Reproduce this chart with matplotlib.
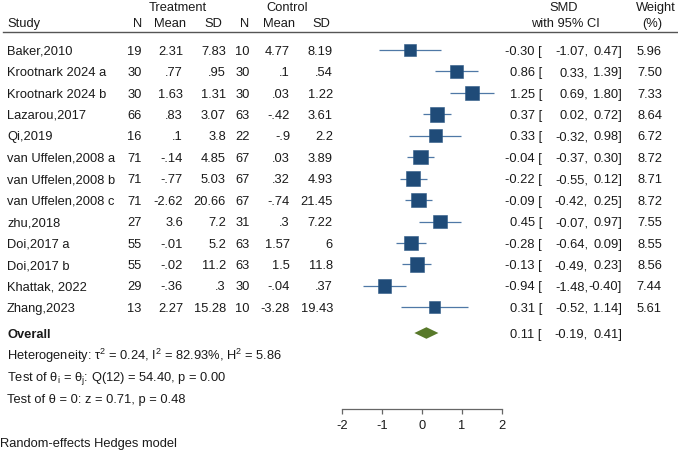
import matplotlib
matplotlib.use("Agg")
import matplotlib.pyplot as plt
import numpy as np

plt.rcParams['font.family'] = ['Liberation Sans', 'DejaVu Sans']
plt.rcParams['mathtext.fontset'] = 'custom'
plt.rcParams['mathtext.rm'] = 'Liberation Sans'
plt.rcParams['mathtext.it'] = 'Liberation Sans'

studies = ["Baker,2010", "Krootnark 2024 a", "Krootnark 2024 b", "Lazarou,2017", "Qi,2019",
           "van Uffelen,2008 a", "van Uffelen,2008 b", "van Uffelen,2008 c", "zhu,2018",
           "Doi,2017 a", "Doi,2017 b", "Khattak, 2022", "Zhang,2023"]
t_n = ["19", "30", "30", "66", "16", "71", "71", "71", "27", "55", "55", "29", "13"]
t_mean = ["2.31", ".77", "1.63", ".83", ".1", "-.14", "-.77", "-2.62", "3.6", "-.01", "-.02", "-.36", "2.27"]
t_sd = ["7.83", ".95", "1.31", "3.07", "3.8", "4.85", "5.03", "20.66", "7.2", "5.2", "11.2", ".3", "15.28"]
c_n = ["10", "30", "30", "63", "22", "67", "67", "67", "31", "63", "63", "30", "10"]
c_mean = ["4.77", ".1", ".03", "-.42", "-.9", ".03", ".32", "-.74", ".3", "1.57", "1.5", "-.04", "-3.28"]
c_sd = ["8.19", ".54", "1.22", "3.61", "2.2", "3.89", "4.93", "21.45", "7.22", "6", "11.8", ".37", "19.43"]
smd = [-0.30, 0.86, 1.25, 0.37, 0.33, -0.04, -0.22, -0.09, 0.45, -0.28, -0.13, -0.94, 0.31]
lo = [-1.07, 0.33, 0.69, 0.02, -0.32, -0.37, -0.55, -0.42, -0.07, -0.64, -0.49, -1.48, -0.52]
hi = [0.47, 1.39, 1.80, 0.72, 0.98, 0.30, 0.12, 0.25, 0.97, 0.09, 0.23, -0.40, 1.14]
weight = [5.96, 7.50, 7.33, 8.64, 6.72, 8.72, 8.71, 8.72, 7.55, 8.55, 8.56, 7.44, 5.61]
overall = (0.11, -0.19, 0.41)
het_text = r"Heterogeneity: τ$^\mathregular{2}$ = 0.24, I$^\mathregular{2}$ = 82.93%, H$^\mathregular{2}$ = 5.86"
q_text = r"Test of θ$_\mathregular{i}$ = θ$_\mathregular{j}$: Q(12) = 54.40, p = 0.00"
z_text = "Test of θ = 0: z = 0.71, p = 0.48"
model_text = "Random-effects Hedges model"
ticks = [-2, -1, 0, 1, 2]

W, H = 678, 451
fig = plt.figure(figsize=(W / 100, H / 100), dpi=100)
ax = fig.add_axes([0, 0, 1, 1])
ax.axis('off')
# pixel mapping: x_px = 422 + 40*smd ; y_px = 50 + 21.44*row
x0, sx = 422.0, 40.0
y0, sy = 50.0, 21.44
ax.set_xlim((0 - x0) / sx, (W - x0) / sx)
ax.set_ylim((H - y0) / sy, (0 - y0) / sy)

fs = 9.3
cap_half = (fs * 100 / 72 * 0.716 / 2) / sy  # half cap height in row units
tr = ax.get_yaxis_transform()  # x axes fraction, y data

def px(x):
    return x / W

sq_color = '#1f4b78'
ci_color = '#4f78a6'
dia_color = '#58792a'

def txt(x, y, s, ha='left', **kw):
    ax.text(px(x), y + cap_half, s, transform=tr, ha=ha, va='baseline', fontsize=fs,
            color='#1a1a1a', **kw)

rows = np.arange(len(studies))
# header
txt(178, -2.05, "Treatment", ha='center')
txt(287, -2.05, "Control", ha='center')
txt(564, -2.05, "SMD", ha='center')
txt(656, -2.05, "Weight", ha='center')
txt(7, -1.27, "Study")
for lab, cx in [("N", 137.5), ("Mean", 170), ("SD", 213), ("N", 245), ("Mean", 278.5), ("SD", 321)]:
    txt(cx, -1.27, lab, ha='center')
txt(565, -1.27, "with 95% CI", ha='center')
txt(652, -1.27, "(%)", ha='center')
ax.plot([px(3), 1.0], [-0.82, -0.82], transform=tr, color='#555555', lw=1.0)

cols = [(t_n, 141.5), (t_mean, 183), (t_sd, 226), (c_n, 250), (c_mean, 290), (c_sd, 333)]
for i in rows:
    txt(7, i, studies[i])
    for arr, rx in cols:
        txt(rx, i, arr[i], ha='right')
    txt(542, i, f"{smd[i]:.2f} [", ha='right')
    txt(588, i, f"{lo[i]:.2f},", ha='right')
    txt(622, i, f"{hi[i]:.2f}]", ha='right')
    txt(662, i, f"{weight[i]:.2f}", ha='right')

ax.hlines(rows, lo, hi, color=ci_color, lw=0.9, zorder=2)
ax.scatter(smd, rows, s=np.array(weight) * 12.6, marker='s', color=sq_color,
           edgecolors='#2d5a86', linewidths=0.4, zorder=3)

orow = 13.2
est, olo, ohi = overall
dh = 0.27
ax.fill([olo, est, ohi, est], [orow, orow - dh, orow, orow + dh], color=dia_color, lw=0, zorder=3)
txt(7, orow, "Overall", fontweight='bold')
txt(542, orow, f"{est:.2f} [", ha='right')
txt(588, orow, f"{olo:.2f},", ha='right')
txt(622, orow, f"{ohi:.2f}]", ha='right')

txt(7, 14.22, het_text)
txt(7, 15.24, q_text)
txt(7, 16.23, z_text)
txt(0, 18.3, model_text)

# x axis
ax2 = fig.add_axes([342 / W, 1 - 409 / H, 160 / W, 0.0001])
ax2.set_xlim(-2, 2)
ax2.set_xticks(ticks)
ax2.set_xticklabels([str(t) for t in ticks])
ax2.set_yticks([])
for s in ['top', 'left', 'right']:
    ax2.spines[s].set_visible(False)
ax2.spines['bottom'].set_color('#666666')
ax2.spines['bottom'].set_linewidth(0.9)
ax2.tick_params(axis='x', direction='out', length=3.5, width=0.9, color='#666666',
                labelsize=fs, labelcolor='#1a1a1a', pad=4.5)
ax2.patch.set_visible(False)

fig.savefig("out.png", dpi=100)
